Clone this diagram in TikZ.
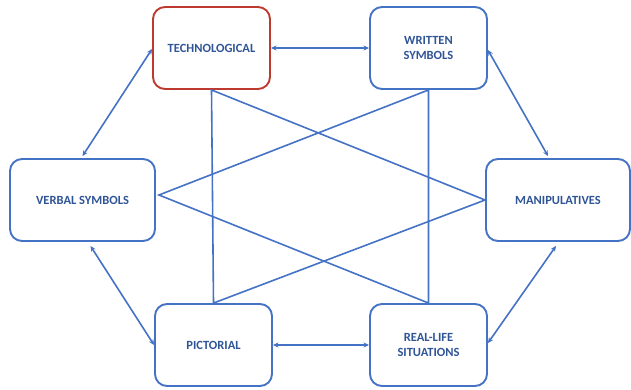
\documentclass[tikz,border=0pt]{standalone}
\usepackage{fontspec}
\setmainfont{Carlito}
\usetikzlibrary{arrows.meta}
\definecolor{boxblue}{HTML}{4472C4}
\definecolor{boxred}{HTML}{BE3A2E}
\definecolor{txtblue}{HTML}{2F5597}
\begin{document}
\begin{tikzpicture}[x=1pt,y=-1pt,
  repbox/.style={draw=boxblue, line width=1.9pt, rounded corners=12pt, fill=white,
    minimum width=117pt, minimum height=82pt, align=center, inner sep=2pt,
    font=\fontsize{12.5}{15}\selectfont\bfseries, text=txtblue},
  widebox/.style={repbox, minimum width=145pt},
  link/.style={draw=boxblue, line width=1.6pt},
  both/.style={draw=boxblue, line width=1.6pt, {Stealth[length=5.5pt,width=5pt]}-{Stealth[length=5.5pt,width=5pt]}}
]
\useasboundingbox (0,0) rectangle (631,389);

% representation boxes
\node[repbox, draw=boxred] (tech) at (211.5,48) {TECHNOLOGICAL};
\node[repbox] (written) at (428.5,48) {WRITTEN\\SYMBOLS};
\node[widebox] (verbal) at (82.5,200) {VERBAL SYMBOLS};
\node[widebox, minimum width=144pt] (manip) at (558,200) {MANIPULATIVES};
\node[repbox] (pict) at (213.5,345) {PICTORIAL};
\node[repbox] (real) at (428.5,345) {REAL-LIFE\\SITUATIONS};

% two interlocking triangles
\coordinate (vtip) at ([xshift=3pt,yshift=5pt]verbal.east);
\draw[link] (tech.south) -- (pict.north) -- (manip.west) -- cycle;
\draw[link] (written.south) -- (vtip) -- (real.north) -- cycle;

% two-way arrows around the hexagon
\draw[both] (tech.east) -- (written.west);
\draw[both] (pict.east) -- (real.west);
\draw[both] ([yshift=2pt]verbal.north) -- ([yshift=-1pt]tech.west);
\draw[both] ([yshift=-2pt]written.east) -- ([xshift=-10pt,yshift=2pt]manip.north);
\draw[both] ([xshift=-2pt,yshift=-4pt]manip.south) -- ([yshift=2pt]real.east);
\draw[both] ([xshift=8pt,yshift=-4pt]verbal.south) -- (pict.west);
\end{tikzpicture}
\end{document}
